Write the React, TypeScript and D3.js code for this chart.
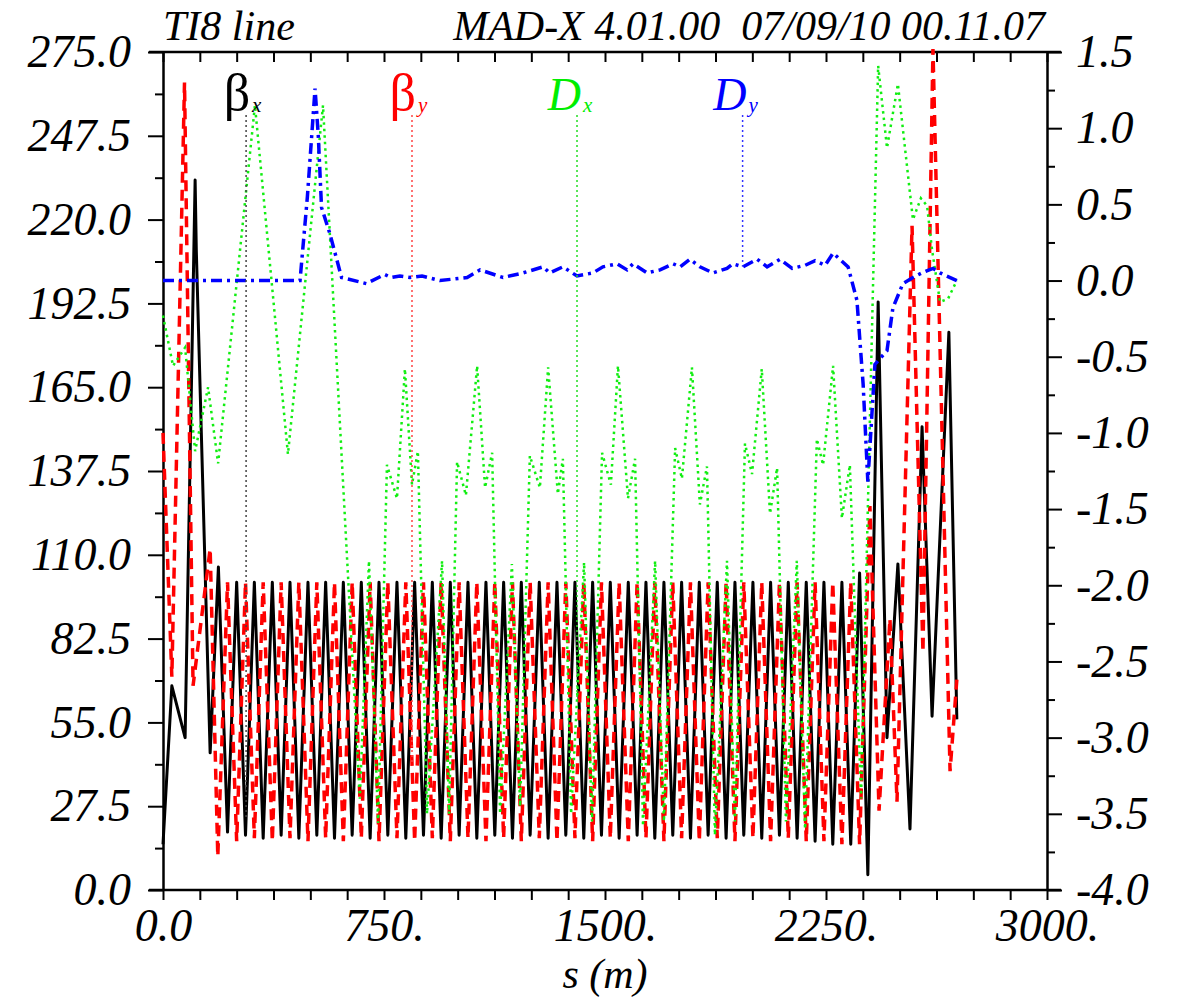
import React, { useEffect, useRef } from "react";
import * as d3 from "d3";

// beta_x (m) along s (m)
const sBetx = [0, 30, 75, 109, 113, 160, 188, 219,
  250, 280, 310, 340, 371, 401, 431, 461, 492, 522, 552, 582, 612, 642, 673, 703, 733, 763, 794, 824, 854, 884,
  914, 944, 975, 1005, 1035, 1065, 1096, 1126, 1156, 1186, 1216, 1246, 1277, 1307, 1337, 1367, 1398, 1428, 1458, 1488,
  1518, 1548, 1579, 1609, 1639, 1669, 1700, 1730, 1760, 1790, 1820, 1850, 1881, 1911, 1941, 1971, 2002, 2032, 2062, 2092,
  2122, 2152, 2183, 2213, 2243, 2273, 2304, 2334, 2364,
  2392, 2427, 2457, 2494, 2535, 2576, 2610, 2667, 2694];
const betx = [15, 67, 50, 233, 210, 45, 106, 19,
  101, 18, 101, 17, 101, 18, 101, 17, 101, 18, 101, 17, 101, 18, 101, 17, 101, 18, 101, 17, 101, 18,
  101, 17, 101, 18, 101, 17, 101, 18, 101, 17, 101, 18, 101, 17, 101, 18, 101, 17, 101, 18,
  101, 17, 101, 18, 101, 17, 101, 18, 101, 17, 101, 18, 101, 17, 101, 18, 101, 17, 101, 18,
  101, 17, 101, 16, 101, 15, 101, 15, 104,
  5, 193, 50, 107, 20, 152, 57, 183, 56];

// beta_y (m)
const sBety = [0, 30, 73, 102, 160, 186, 219,
  250, 280, 310, 340, 371, 401, 431, 461, 492, 522, 552, 582, 612, 642, 673, 703, 733, 763, 794, 824, 854, 884,
  914, 944, 975, 1005, 1035, 1065, 1096, 1126, 1156, 1186, 1216, 1246, 1277, 1307, 1337, 1367, 1398, 1428, 1458, 1488,
  1518, 1548, 1579, 1609, 1639, 1669, 1700, 1730, 1760, 1790, 1820, 1850, 1881, 1911, 1941, 1971, 2002, 2032, 2062, 2092,
  2122, 2152, 2183, 2213, 2243, 2273, 2304, 2334, 2364,
  2399, 2430, 2467, 2491, 2542, 2579, 2613, 2671, 2694];
const bety = [150, 70, 265, 67, 112, 11, 101,
  16, 101, 17, 101, 16, 101, 17, 101, 16, 101, 17, 101, 16, 101, 17, 101, 16, 101, 17, 101, 16, 101,
  17, 101, 16, 101, 17, 101, 16, 101, 17, 101, 16, 101, 17, 101, 16, 101, 17, 101, 16, 101,
  17, 101, 16, 101, 17, 101, 16, 101, 17, 101, 16, 101, 17, 101, 16, 101, 17, 101, 16, 101,
  17, 101, 16, 101, 16, 101, 15, 101, 15,
  126, 26, 89, 29, 218, 78, 276, 39, 69];

// D_x (m), right axis
const sDx = [0, 34, 75, 109, 153, 187, 312, 424, 543, 668, 699, 730, 760, 794, 821, 845, 865, 896, 947, 971,
  998, 1028, 1066, 1093, 1117, 1144, 1184, 1212, 1245, 1279, 1307, 1340, 1357, 1385, 1429, 1456,
  1490, 1520, 1544, 1578, 1602, 1629, 1670, 1700, 1738, 1761, 1795, 1822, 1846, 1873, 1914, 1941,
  1975, 1999, 2032, 2060, 2084, 2114, 2151, 2179, 2219, 2240, 2274, 2304, 2331, 2369,
  2427, 2457, 2494, 2545, 2572, 2593, 2610, 2637, 2664, 2694];
const dx = [-0.23, -0.56, -0.44, -1.12, -0.7, -1.2, 1.15, -1.14, 1.15, -3.4, -1.84, -3.56, -1.21, -1.43, -0.58, -1.34, -1.12, -3.5, -1.84, -3.5,
  -1.19, -1.41, -0.56, -1.36, -1.13, -3.5, -1.86, -3.45, -1.15, -1.36, -0.57, -1.4, -1.17, -3.5, -1.85, -3.55,
  -1.13, -1.34, -0.56, -1.43, -1.17, -3.58, -1.84, -3.55, -1.1, -1.3, -0.57, -1.47, -1.22, -3.64, -1.84, -3.55,
  -1.07, -1.27, -0.58, -1.53, -1.23, -3.55, -1.84, -3.6, -1.04, -1.21, -0.56, -1.56, -1.21, -3.4,
  1.41, 0.87, 1.29, 0.4, 0.54, 0.49, 0.2, -0.14, -0.12, 0.0];

// D_y (m), right axis
const sDy = [0, 465, 490, 516, 527, 538, 566, 606, 690, 752, 774, 804, 838, 879, 940, 1032, 1076, 1154, 1222, 1290,
  1312, 1357, 1405, 1459, 1493, 1541, 1575, 1595, 1643, 1687, 1731, 1755, 1788, 1822, 1866, 1914, 1934, 1968,
  2016, 2050, 2094, 2135, 2179, 2213, 2247, 2274, 2325, 2355, 2376, 2392, 2416, 2457, 2477, 2511, 2545, 2575,
  2613, 2637, 2694];
const dy = [0, 0, 0.55, 1.26, 0.95, 0.48, 0.31, 0.02, -0.02, 0.04, 0.02, 0.03, 0.02, 0.03, 0.0, 0.02, 0.07, 0.02, 0.05, 0.09,
  0.05, 0.09, 0.03, 0.05, 0.09, 0.11, 0.07, 0.11, 0.05, 0.07, 0.11, 0.09, 0.14, 0.09, 0.05, 0.08, 0.11, 0.09,
  0.14, 0.09, 0.14, 0.08, 0.1, 0.13, 0.1, 0.18, 0.09, -0.13, -0.68, -1.32, -0.55, -0.46, -0.18, -0.02, 0.02, 0.05,
  0.08, 0.05, 0.0];

const leftTicks = [0, 27.5, 55, 82.5, 110, 137.5, 165, 192.5, 220, 247.5, 275];
const rightTicks = [-4, -3.5, -3, -2.5, -2, -1.5, -1, -0.5, 0, 0.5, 1, 1.5];
const bottomTicks = [0, 750, 1500, 2250, 3000];
const bottomLabels = ["0.0", "750.", "1500.", "2250.", "3000."];

const legend = [
  { sym: "\u03b2", sub: "x", s: 282, color: "#000000", line: "#444444", italic: false, series: "betx" },
  { sym: "\u03b2", sub: "y", s: 845, color: "#ff0000", line: "#ff4444", italic: false, series: "bety" },
  { sym: "D", sub: "x", s: 1405, color: "#00ee00", line: "#22dd22", italic: true, series: "dx" },
  { sym: "D", sub: "y", s: 1967, color: "#0000ff", line: "#3333ff", italic: true, series: "dy" },
];

const FONT = "'Liberation Serif', 'Times New Roman', serif";

const interp = (s: number[], v: number[], at: number) => {
  const i = Math.max(1, d3.bisectLeft(s, at));
  const t = (at - s[i - 1]) / (s[i] - s[i - 1]);
  return d3.interpolateNumber(v[i - 1], v[i])(t);
};

const App = () => {
  const svgRef = useRef<SVGSVGElement>(null);

  useEffect(() => {
    document.body.style.margin = "0";
    const svg = d3.select(svgRef.current);
    svg.selectAll("*").remove();

    const left = 163, right = 1047, top = 52, bottom = 890;
    const x = d3.scaleLinear().domain([0, 3000]).range([left, right]);
    const yL = d3.scaleLinear().domain([0, 275]).range([bottom, top]);
    const yR = d3.scaleLinear().domain([-4, 1.5]).range([bottom, top]);

    const styleAxis = (g: any, size: number) => {
      g.selectAll("path.domain").attr("stroke", "#000").attr("stroke-width", 2.5);
      g.selectAll(".tick line").attr("stroke", "#000").attr("stroke-width", 2);
      g.selectAll("text")
        .attr("fill", "#000")
        .style("font-family", FONT)
        .style("font-style", "italic")
        .style("font-size", size + "px");
    };

    // left axis
    const gl = svg.append("g").attr("transform", `translate(${left},0)`);
    gl.call(d3.axisLeft(yL).tickValues(leftTicks).tickSize(15).tickSizeOuter(0).tickPadding(17)
      .tickFormat((d: any) => (+d).toFixed(1)));
    styleAxis(gl, 46);
    const glm = svg.append("g").attr("transform", `translate(${left},0)`);
    glm.call(d3.axisLeft(yL).tickValues(leftTicks.slice(1).map((t) => t - 13.75)).tickSize(8).tickFormat(() => ""));
    glm.select("path.domain").remove();
    styleAxis(glm, 46);

    // right axis
    const gr = svg.append("g").attr("transform", `translate(${right},0)`);
    gr.call(d3.axisRight(yR).tickValues(rightTicks).tickSize(15).tickSizeOuter(0).tickPadding(14)
      .tickFormat((d: any) => (+d).toFixed(1)));
    styleAxis(gr, 46);
    const grm = svg.append("g").attr("transform", `translate(${right},0)`);
    grm.call(d3.axisRight(yR).tickValues(rightTicks.slice(1).map((t) => t - 0.25)).tickSize(8).tickFormat(() => ""));
    grm.select("path.domain").remove();
    styleAxis(grm, 46);

    // bottom axis
    const minorS = d3.range(0, 3001, 125);
    const gb = svg.append("g").attr("transform", `translate(0,${bottom})`);
    gb.call(d3.axisBottom(x).tickValues(minorS).tickSize(10).tickFormat(() => ""));
    gb.select("path.domain").remove();
    styleAxis(gb, 46);
    const gbl = svg.append("g").attr("transform", `translate(0,${bottom})`);
    gbl.call(d3.axisBottom(x).tickValues(bottomTicks).tickSize(0).tickPadding(18)
      .tickFormat((d: any, i: number) => bottomLabels[i]));
    gbl.select("path.domain").remove();
    styleAxis(gbl, 46);

    // top ticks (inward)
    const gt = svg.append("g").attr("transform", `translate(0,${top})`);
    gt.call(d3.axisBottom(x).tickValues(minorS).tickSize(10).tickFormat(() => ""));
    gt.select("path.domain").remove();
    styleAxis(gt, 46);

    // frame horizontal lines extend past the axes
    [top, bottom].forEach((yy) => {
      svg.append("line").attr("x1", left - 14).attr("x2", right + 14)
        .attr("y1", yy).attr("y2", yy).attr("stroke", "#000").attr("stroke-width", 2.5);
    });

    // curves
    const mk = (s: number[], y: any) =>
      d3.line<number>().x((_, i) => x(s[i])).y((d) => y(d));

    svg.append("path").datum(betx).attr("d", mk(sBetx, yL)).attr("fill", "none")
      .attr("stroke", "#000").attr("stroke-width", 3).attr("stroke-linejoin", "round");
    svg.append("path").datum(bety).attr("d", mk(sBety, yL)).attr("fill", "none")
      .attr("stroke", "#ff0000").attr("stroke-width", 3.5).attr("stroke-dasharray", "11,7");
    svg.append("path").datum(dx).attr("d", mk(sDx, yR)).attr("fill", "none")
      .attr("stroke", "#11ee11").attr("stroke-width", 2.5).attr("stroke-dasharray", "2.5,4");
    svg.append("path").datum(dy).attr("d", mk(sDy, yR)).attr("fill", "none")
      .attr("stroke", "#0000ff").attr("stroke-width", 3.5).attr("stroke-dasharray", "11,5,3,5");

    // legend labels with dotted pointer lines
    const seriesEnd: Record<string, number> = {
      betx: yL(interp(sBetx, betx, 282)),
      bety: yL(interp(sBety, bety, 845)),
      dx: yR(interp(sDx, dx, 1405)),
      dy: yR(interp(sDy, dy, 1967)),
    };
    legend.forEach((l) => {
      const lx = x(l.s);
      svg.append("line").attr("x1", lx).attr("x2", lx).attr("y1", 115).attr("y2", seriesEnd[l.series])
        .attr("stroke", l.line).attr("stroke-width", 1.5).attr("stroke-dasharray", "2,3");
      svg.append("text").attr("x", lx + 4).attr("y", 110).attr("text-anchor", "end")
        .attr("fill", l.color).style("font-family", FONT)
        .style("font-style", l.italic ? "italic" : "normal").style("font-size", l.italic ? "46px" : "52px").text(l.sym);
      svg.append("text").attr("x", lx + 6).attr("y", 112)
        .attr("fill", l.color).style("font-family", FONT)
        .style("font-style", "italic").style("font-size", "21px").text(l.sub);
    });

    // header
    svg.append("text").attr("x", left).attr("y", 40).attr("fill", "#000")
      .style("font-family", FONT).style("font-style", "italic").style("font-size", "42px")
      .text("TI8 line");
    svg.append("text").attr("x", right - 2).attr("y", 40).attr("text-anchor", "end").attr("fill", "#000")
      .style("font-family", FONT).style("font-style", "italic").style("font-size", "42px")
      .style("white-space", "pre")
      .text("MAD-X 4.01.00  07/09/10 00.11.07");

    // x axis title
    svg.append("text").attr("x", 605).attr("y", 988).attr("text-anchor", "middle").attr("fill", "#000")
      .style("font-family", FONT).style("font-style", "italic").style("font-size", "42px")
      .text("s (m)");
  }, []);

  return (
    <svg ref={svgRef} width={1178} height={1000} style={{ display: "block", background: "#ffffff" }}></svg>
  );
};

export default App;
